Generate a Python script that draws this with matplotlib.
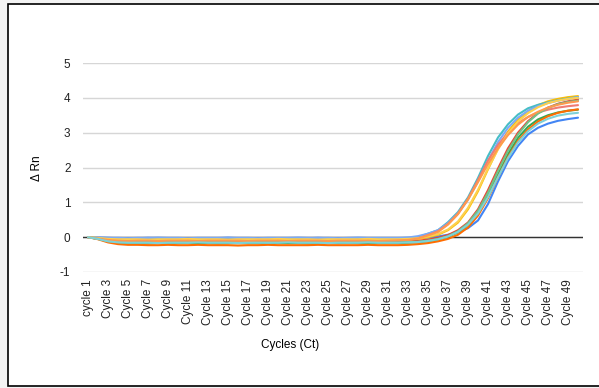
import matplotlib
matplotlib.use("Agg")
import matplotlib.pyplot as plt
from matplotlib.patches import Rectangle

plt.rcParams['font.family'] = ['Liberation Sans', 'DejaVu Sans']

cycles = ["cycle 1"] + ["Cycle %d" % n for n in range(2, 51)]

# delta Rn per cycle (1..50) for each well
teal = [0.00, -0.03, -0.06, -0.07, -0.07, -0.08, -0.07, -0.07, -0.06, -0.07,
        -0.07, -0.08, -0.07, -0.07, -0.07, -0.06, -0.07, -0.07, -0.08, -0.07,
        -0.07, -0.06, -0.07, -0.07, -0.07, -0.08, -0.07, -0.07, -0.06, -0.07,
        -0.07, -0.06, -0.05, 0.00, 0.10, 0.20, 0.43, 0.72, 1.14, 1.70,
        2.33, 2.86, 3.24, 3.52, 3.70, 3.80, 3.87, 3.93, 3.98, 4.02]
light_blue = [0.00, -0.01, -0.02, -0.02, -0.03, -0.02, -0.02, -0.01, -0.02, -0.02,
              -0.03, -0.02, -0.02, -0.02, -0.01, -0.02, -0.02, -0.03, -0.02, -0.02,
              -0.02, -0.01, -0.02, -0.02, -0.02, -0.03, -0.02, -0.01, -0.02, -0.02,
              -0.02, -0.02, -0.01, 0.03, 0.10, 0.20, 0.40, 0.68, 1.08, 1.60,
              2.20, 2.73, 3.14, 3.43, 3.63, 3.76, 3.85, 3.92, 3.97, 4.02]
light_red = [0.00, -0.04, -0.08, -0.10, -0.10, -0.11, -0.10, -0.10, -0.10, -0.11,
             -0.10, -0.10, -0.09, -0.10, -0.10, -0.11, -0.10, -0.10, -0.10, -0.09,
             -0.10, -0.10, -0.11, -0.10, -0.10, -0.10, -0.09, -0.10, -0.10, -0.10,
             -0.10, -0.09, -0.08, -0.03, 0.06, 0.17, 0.38, 0.68, 1.10, 1.64,
             2.20, 2.65, 3.00, 3.27, 3.45, 3.58, 3.66, 3.72, 3.76, 3.79]
light_orange = [0.00, -0.04, -0.08, -0.10, -0.11, -0.10, -0.10, -0.11, -0.10, -0.10,
                -0.10, -0.11, -0.10, -0.10, -0.10, -0.10, -0.11, -0.10, -0.10, -0.10,
                -0.11, -0.10, -0.10, -0.10, -0.11, -0.10, -0.10, -0.10, -0.10, -0.11,
                -0.10, -0.09, -0.08, -0.04, 0.05, 0.15, 0.36, 0.66, 1.08, 1.58,
                2.10, 2.55, 2.93, 3.23, 3.45, 3.60, 3.72, 3.80, 3.86, 3.90]
yellow = [0.00, -0.03, -0.06, -0.08, -0.08, -0.09, -0.08, -0.08, -0.08, -0.07,
          -0.08, -0.08, -0.09, -0.08, -0.08, -0.08, -0.08, -0.07, -0.08, -0.08,
          -0.08, -0.09, -0.08, -0.08, -0.08, -0.07, -0.08, -0.08, -0.08, -0.08,
          -0.08, -0.08, -0.07, -0.05, 0.00, 0.07, 0.20, 0.42, 0.80, 1.32,
          1.95, 2.55, 3.03, 3.38, 3.62, 3.79, 3.90, 3.97, 4.02, 4.05]
light_yellow = [0.00, -0.02, -0.05, -0.06, -0.06, -0.06, -0.07, -0.06, -0.06, -0.06,
                -0.05, -0.06, -0.06, -0.06, -0.07, -0.06, -0.06, -0.06, -0.06, -0.05,
                -0.06, -0.06, -0.06, -0.07, -0.06, -0.06, -0.06, -0.06, -0.05, -0.06,
                -0.06, -0.06, -0.05, -0.03, 0.02, 0.09, 0.22, 0.45, 0.84, 1.36,
                1.97, 2.52, 2.98, 3.32, 3.56, 3.73, 3.85, 3.92, 3.97, 4.00]
red = [0.00, -0.04, -0.09, -0.11, -0.12, -0.12, -0.13, -0.12, -0.12, -0.12,
       -0.11, -0.12, -0.12, -0.12, -0.13, -0.12, -0.12, -0.12, -0.12, -0.11,
       -0.12, -0.12, -0.13, -0.12, -0.12, -0.12, -0.12, -0.11, -0.12, -0.12,
       -0.12, -0.12, -0.11, -0.10, -0.07, -0.02, 0.06, 0.20, 0.42, 0.80,
       1.35, 1.97, 2.55, 3.00, 3.33, 3.56, 3.72, 3.83, 3.90, 3.95]
green = [0.00, -0.05, -0.12, -0.16, -0.17, -0.17, -0.18, -0.17, -0.17, -0.17,
         -0.16, -0.17, -0.17, -0.18, -0.17, -0.17, -0.17, -0.17, -0.16, -0.17,
         -0.17, -0.17, -0.18, -0.17, -0.17, -0.17, -0.16, -0.17, -0.17, -0.17,
         -0.17, -0.17, -0.16, -0.15, -0.12, -0.07, 0.01, 0.14, 0.35, 0.70,
         1.20, 1.80, 2.38, 2.85, 3.17, 3.38, 3.50, 3.58, 3.63, 3.66]
light_green = [0.00, -0.05, -0.11, -0.14, -0.15, -0.15, -0.15, -0.16, -0.15, -0.15,
               -0.15, -0.14, -0.15, -0.15, -0.15, -0.16, -0.15, -0.15, -0.15, -0.15,
               -0.14, -0.15, -0.15, -0.15, -0.16, -0.15, -0.15, -0.15, -0.14, -0.15,
               -0.15, -0.15, -0.14, -0.13, -0.10, -0.05, 0.03, 0.17, 0.40, 0.76,
               1.28, 1.90, 2.48, 2.95, 3.30, 3.55, 3.71, 3.82, 3.88, 3.92]
orange = [0.00, -0.06, -0.15, -0.20, -0.22, -0.22, -0.23, -0.23, -0.22, -0.23,
          -0.23, -0.22, -0.23, -0.23, -0.23, -0.24, -0.23, -0.23, -0.22, -0.23,
          -0.23, -0.23, -0.23, -0.22, -0.23, -0.23, -0.23, -0.23, -0.22, -0.23,
          -0.23, -0.23, -0.22, -0.20, -0.17, -0.12, -0.05, 0.07, 0.28, 0.62,
          1.12, 1.72, 2.30, 2.76, 3.09, 3.32, 3.47, 3.57, 3.63, 3.67]
light_teal = [0.00, -0.05, -0.12, -0.15, -0.16, -0.16, -0.16, -0.17, -0.16, -0.16,
              -0.16, -0.15, -0.16, -0.16, -0.16, -0.17, -0.16, -0.16, -0.16, -0.16,
              -0.15, -0.16, -0.16, -0.16, -0.17, -0.16, -0.16, -0.16, -0.15, -0.16,
              -0.16, -0.16, -0.15, -0.14, -0.11, -0.06, 0.02, 0.15, 0.36, 0.68,
              1.15, 1.72, 2.27, 2.72, 3.04, 3.26, 3.40, 3.49, 3.54, 3.57]
blue = [0.00, -0.01, -0.02, -0.03, -0.03, -0.03, -0.02, -0.03, -0.03, -0.03,
        -0.04, -0.03, -0.03, -0.03, -0.02, -0.03, -0.03, -0.03, -0.03, -0.04,
        -0.03, -0.03, -0.03, -0.02, -0.03, -0.03, -0.03, -0.03, -0.03, -0.04,
        -0.03, -0.03, -0.02, -0.02, -0.01, 0.02, 0.07, 0.14, 0.26, 0.48,
        0.95, 1.60, 2.18, 2.62, 2.95, 3.14, 3.26, 3.34, 3.39, 3.43]

series = [
    (blue, '#4285F4'), (red, '#EA4335'), (yellow, '#FBBC04'), (green, '#34A853'),
    (orange, '#FF6D01'), (teal, '#46BDC6'), (light_blue, '#7BAAF7'),
    (light_red, '#F07B72'), (light_yellow, '#FCD04F'), (light_green, '#71C287'),
    (light_orange, '#FF994D'), (light_teal, '#7ED1D7'),
]

W, H = 599, 388
fig = plt.figure(figsize=(W / 100, H / 100), dpi=100)
fig.patch.set_facecolor('#f3f3f3')
frame = Rectangle((8 / W, 2 / H), 1.0, (H - 6) / H, transform=fig.transFigure,
                  facecolor='white', edgecolor='black', linewidth=1.2, zorder=-5)
fig.patches.append(frame)

ax = fig.add_axes([83 / W, (H - 272) / H, 500 / W, 209 / H])
ax.set_zorder(2)
ax.set_facecolor('none')
x = list(range(len(cycles)))

for vals, col in series:
    ax.plot(x, vals, color=col, linewidth=1.5, solid_capstyle='round', zorder=3)

ax.set_xlim(-0.5, len(cycles) - 0.5)
ax.set_ylim(-1, 5)
ax.set_yticks(range(-1, 6))
ax.set_yticklabels([str(v) for v in range(-1, 6)], fontsize=8.5, color='#222222')
ax.set_xticks(x[::2])
ax.set_xticklabels(cycles[::2], rotation=90, fontsize=8.5, color='#222222')
ax.tick_params(axis='both', length=0)
ax.tick_params(axis='y', pad=9)
ax.tick_params(axis='x', pad=5)
for s in ax.spines.values():
    s.set_visible(False)
ax.grid(axis='y', color='#d6d6d6', linewidth=1, zorder=1)
ax.axhline(0, color='#333333', linewidth=1, zorder=2)

fig.text(37 / W, 1 - 168 / H, 'Δ Rn', rotation=90, ha='center', va='center', fontsize=8.5)
fig.text(290 / W, 1 - 345 / H, 'Cycles (Ct)', ha='center', va='center', fontsize=8.5)

fig.savefig('out.png', dpi=100, facecolor=fig.get_facecolor())
